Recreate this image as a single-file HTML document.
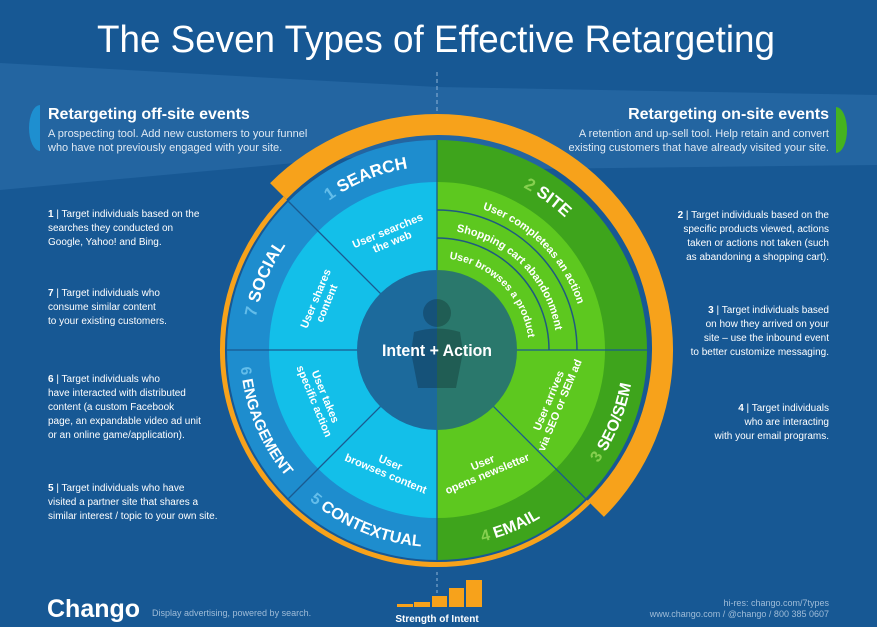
<!DOCTYPE html>
<html><head><meta charset="utf-8"><style>
html,body{margin:0;padding:0;background:#175894;}
svg{display:block;font-family:"Liberation Sans",sans-serif;}
.b{font-weight:bold;fill:#fff;}
.s{fill:#fff;font-size:10px;}
.h{fill:#dfe9f3;font-size:11px;}
</style></head><body>
<svg width="877" height="627" viewBox="0 0 877 627" xmlns="http://www.w3.org/2000/svg">
<rect width="877" height="627" fill="#175894"/>
<polygon points="0,63 437,87 437,150 0,190" fill="#2365a1"/>
<polygon points="437,87 877,95 877,165 437,170" fill="#2365a1"/>
<text x="97" y="52" font-size="38" fill="#fff" textLength="678" lengthAdjust="spacingAndGlyphs">The Seven Types of Effective Retargeting</text>
<line x1="437" y1="72" x2="437" y2="135" stroke="#8fb3d6" stroke-width="1" stroke-dasharray="4,3"/>

<path d="M40,105 A11,23 0 0 0 40,151 Z" fill="#1e8fd0"/>
<text x="48" y="119" class="b" font-size="16">Retargeting off-site events</text>
<text x="48" y="137" class="h">A prospecting tool. Add new customers to your funnel</text>
<text x="48" y="151" class="h">who have not previously engaged with your site.</text>
<path d="M836,107 A11,23 0 0 1 836,153 Z" fill="#45b31f"/>
<text x="829" y="119" class="b" font-size="16" text-anchor="end">Retargeting on-site events</text>
<text x="829" y="137" class="h" text-anchor="end">A retention and up-sell tool. Help retain and convert</text>
<text x="829" y="151" class="h" text-anchor="end">existing customers that have already visited your site.</text>

<path d="M270.1,183.1 A236,236 0 1 1 603.9,516.9 L587.6,500.6 A213,213 0 1 0 286.4,199.4 Z" fill="#f7a21b"/>
<path d="M588.7,501.7 A214.5,214.5 0 0 1 285.3,198.3" fill="none" stroke="#f7a21b" stroke-width="5"/>

<path d="M437,140 A210,210 0 0 0 437,560 Z" fill="#1e8dce"/>
<path d="M437,140 A210,210 0 0 1 437,560 Z" fill="#3ea41c"/>
<path d="M437,182 A168,168 0 0 0 437,518 Z" fill="#13bfe9"/>
<path d="M437,182 A168,168 0 0 1 437,518 Z" fill="#5dc81f"/>
<path d="M437,270 A80,80 0 0 0 437,430 Z" fill="#1c6a9c"/>
<path d="M437,270 A80,80 0 0 1 437,430 Z" fill="#2a786c"/>

<g stroke="#1a5a90" stroke-width="1.3">
<line x1="437" y1="140" x2="437" y2="270"/>
<line x1="437" y1="430" x2="437" y2="560"/>
<line x1="227" y1="350" x2="357" y2="350"/>
<line x1="517" y1="350" x2="647" y2="350"/>
<line x1="380.4" y1="293.4" x2="288.5" y2="201.5"/>
<line x1="380.4" y1="406.6" x2="288.5" y2="498.5"/>
<line x1="493.6" y1="406.6" x2="585.5" y2="498.5"/>
</g>
<path d="M437,210 A140,140 0 0 1 577,350" fill="none" stroke="#1f5a80" stroke-width="1.5"/>
<path d="M437,238 A112,112 0 0 1 549,350" fill="none" stroke="#1f5a80" stroke-width="1.5"/>

<circle cx="437" cy="313" r="14" fill="rgba(0,0,0,0.22)"/>
<path d="M414,332 Q437,325 460,332 L463,352 L456,388 L418,388 L411,352 Z" fill="rgba(0,0,0,0.22)"/>
<text x="437" y="356" class="b" font-size="17" text-anchor="middle" textLength="110" lengthAdjust="spacingAndGlyphs">Intent + Action</text>

<defs>
<path id="pSearch" d="M306.9,219.9 A184,184 0 0 1 437,166"/>
<path id="pSite" d="M437,166 A184,184 0 0 1 621,350"/>
<path id="pSocial" d="M253,350 A184,184 0 0 1 306.9,219.9"/>
<path id="pEng" d="M240,350 A197,197 0 0 0 297.7,489.3"/>
<path id="pCon" d="M297.7,489.3 A197,197 0 0 0 437,547"/>
<path id="pEmail" d="M437,547 A197,197 0 0 0 576.3,489.3"/>
<path id="pSeo" d="M576.3,489.3 A197,197 0 0 0 634,350"/>
<path id="a1" d="M437,202 A148,148 0 0 1 585,350"/>
<path id="a2" d="M437,230 A120,120 0 0 1 557,350"/>
<path id="a3" d="M437,258 A92,92 0 0 1 529,350"/>
</defs>
<g class="b" font-size="17">
<text><textPath href="#pSearch" startOffset="50%" text-anchor="middle"><tspan fill="#63bdea">1 </tspan>SEARCH</textPath></text>
<text><textPath href="#pSite" startOffset="40%" text-anchor="middle"><tspan fill="#86d04f">2 </tspan>SITE</textPath></text>
<text><textPath href="#pSocial" startOffset="50%" text-anchor="middle"><tspan fill="#63bdea">7 </tspan>SOCIAL</textPath></text>
<text font-size="15"><textPath href="#pEng" startOffset="50%" text-anchor="middle"><tspan fill="#63bdea">6 </tspan>ENGAGEMENT</textPath></text>
<text font-size="16"><textPath href="#pCon" startOffset="50%" text-anchor="middle"><tspan fill="#63bdea">5 </tspan>CONTEXTUAL</textPath></text>
<text font-size="16"><textPath href="#pEmail" startOffset="50%" text-anchor="middle"><tspan fill="#86d04f">4 </tspan>EMAIL</textPath></text>
<text font-size="16"><textPath href="#pSeo" startOffset="50%" text-anchor="middle"><tspan fill="#86d04f">3 </tspan>SEO/SEM</textPath></text>
</g>
<g class="b" font-size="11">
<text><textPath href="#a1" startOffset="50%" text-anchor="middle">User completeas an action</textPath></text>
<text><textPath href="#a2" startOffset="50%" text-anchor="middle">Shopping cart abandonment</textPath></text>
<text font-size="10.5"><textPath href="#a3" startOffset="50%" text-anchor="middle">User browses a product</textPath></text>
</g>
<g class="b" font-size="11" text-anchor="middle">
<text transform="translate(389,234) rotate(-22.5)"><tspan x="0" y="0">User searches</tspan><tspan x="0" y="12">the web</tspan></text>
<text transform="translate(319,300) rotate(-67.5)"><tspan x="0" y="0">User shares</tspan><tspan x="0" y="12">content</tspan></text>
<text transform="translate(322,398) rotate(67.5)"><tspan x="0" y="0">User takes</tspan><tspan x="0" y="12">specific action</tspan></text>
<text transform="translate(389,466) rotate(22.5)"><tspan x="0" y="0">User</tspan><tspan x="0" y="12">browses content</tspan></text>
<text transform="translate(484,466) rotate(-22.5)"><tspan x="0" y="0">User</tspan><tspan x="0" y="12">opens newsletter</tspan></text>
<text transform="translate(552,402) rotate(-67.5)"><tspan x="0" y="0">User arrives</tspan><tspan x="0" y="12">via SEO or SEM ad</tspan></text>
</g>

<g class="s">
<text x="48" y="217"><tspan font-weight="bold">1</tspan> | Target individuals based on the</text>
<text x="48" y="231">searches they conducted on</text>
<text x="48" y="245">Google, Yahoo! and Bing.</text>
<text x="48" y="296"><tspan font-weight="bold">7</tspan> | Target individuals who</text>
<text x="48" y="310">consume similar content</text>
<text x="48" y="324">to your existing customers.</text>
<text x="48" y="382"><tspan font-weight="bold">6</tspan> | Target individuals who</text>
<text x="48" y="396">have interacted with distributed</text>
<text x="48" y="410">content (a custom Facebook</text>
<text x="48" y="424">page, an expandable video ad unit</text>
<text x="48" y="438">or an online game/application).</text>
<text x="48" y="491"><tspan font-weight="bold">5</tspan> | Target individuals who have</text>
<text x="48" y="505">visited a partner site that shares a</text>
<text x="48" y="519">similar interest / topic to your own site.</text>
</g>
<g class="s" text-anchor="end">
<text x="829" y="218"><tspan font-weight="bold">2</tspan> | Target individuals based on the</text>
<text x="829" y="232">specific products viewed, actions</text>
<text x="829" y="246">taken or actions not taken (such</text>
<text x="829" y="260">as abandoning a shopping cart).</text>
<text x="829" y="313"><tspan font-weight="bold">3</tspan> | Target individuals based</text>
<text x="829" y="327">on how they arrived on your</text>
<text x="829" y="341">site – use the inbound event</text>
<text x="829" y="355">to better customize messaging.</text>
<text x="829" y="411"><tspan font-weight="bold">4</tspan> | Target individuals</text>
<text x="829" y="425">who are interacting</text>
<text x="829" y="439">with your email programs.</text>
</g>

<text x="47" y="617" class="b" font-size="25">Chango</text>
<text x="152" y="616" font-size="9" fill="#9fbcd8">Display advertising, powered by search.</text>
<line x1="437" y1="572" x2="437" y2="598" stroke="#8fb3d6" stroke-dasharray="3,3"/>
<g fill="#f7a21b">
<rect x="397" y="604" width="16" height="3"/>
<rect x="414" y="602" width="16" height="5"/>
<rect x="432" y="596" width="15" height="11"/>
<rect x="449" y="588" width="15" height="19"/>
<rect x="466" y="580" width="16" height="27"/>
</g>
<text x="437" y="622" class="b" font-size="10" text-anchor="middle">Strength of Intent</text>
<text x="829" y="606" font-size="9" fill="#9fbcd8" text-anchor="end">hi-res: chango.com/7types</text>
<text x="829" y="617" font-size="9" fill="#9fbcd8" text-anchor="end">www.chango.com  /  @chango  /  800 385 0607</text>
</svg>
</body></html>
